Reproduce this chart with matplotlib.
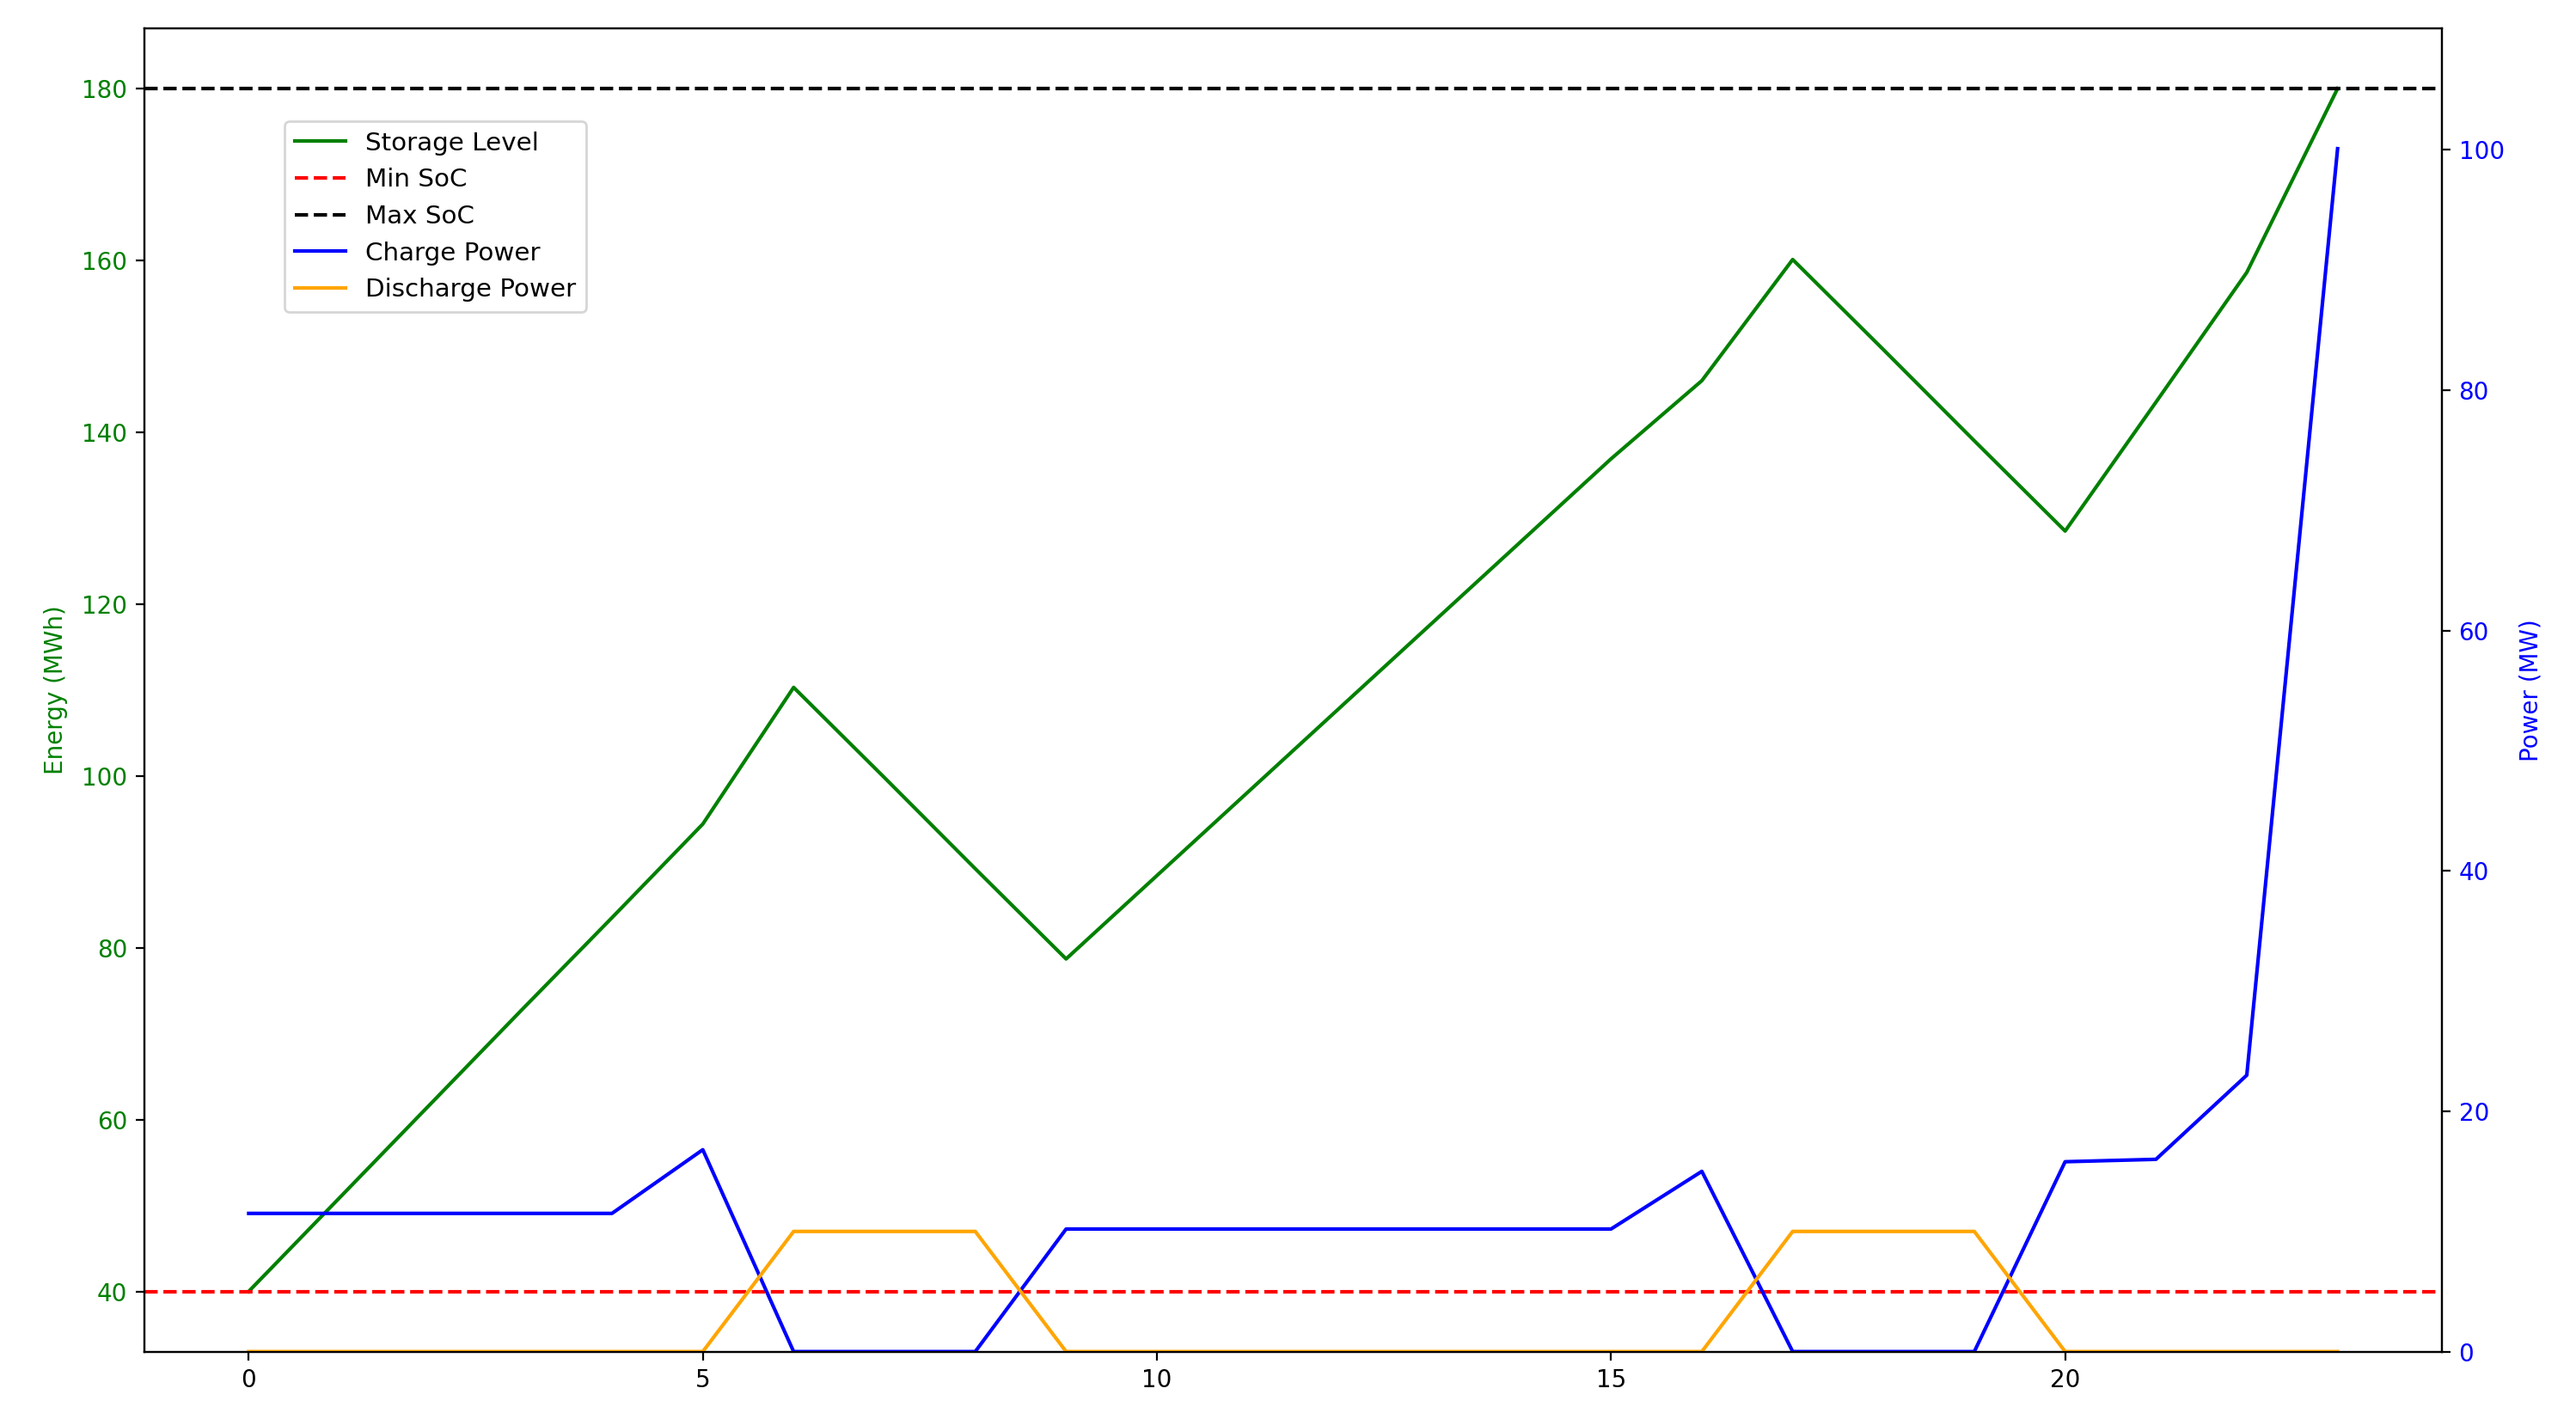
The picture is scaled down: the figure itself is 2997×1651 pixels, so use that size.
import matplotlib
matplotlib.use("Agg")
import matplotlib.pyplot as plt

hours = list(range(24))
storage_level = [40.0, 50.9, 61.8, 72.7, 83.5, 94.4, 110.3, 99.8, 89.2, 78.7,
                 88.4, 98.1, 107.8, 117.5, 127.2, 136.9, 146.0, 160.1, 149.6,
                 139.0, 128.5, 143.5, 158.6, 180.0]
charge_power = [11.5, 11.5, 11.5, 11.5, 11.5, 16.8, 0, 0, 0, 10.2, 10.2, 10.2,
                10.2, 10.2, 10.2, 10.2, 15.0, 0, 0, 0, 15.8, 16.0, 23.0, 100.1]
discharge_power = [0, 0, 0, 0, 0, 0, 10.0, 10.0, 10.0, 0, 0, 0, 0, 0, 0, 0, 0,
                   10.0, 10.0, 10.0, 0, 0, 0, 0]
min_soc = 40
max_soc = 180

plt.rcParams['font.size'] = 10
fig, ax1 = plt.subplots(figsize=(14.985, 8.255), dpi=200)
fig.subplots_adjust(left=0.056, right=0.948, top=0.980, bottom=0.0475)

l1, = ax1.plot(hours, storage_level, color='green', label='Storage Level', linewidth=1.5)
l2 = ax1.axhline(min_soc, color='red', linestyle='--', label='Min SoC', linewidth=1.5)
l3 = ax1.axhline(max_soc, color='black', linestyle='--', label='Max SoC', linewidth=1.5)
ax1.set_ylabel('Energy (MWh)', color='green', labelpad=6)
ax1.tick_params(axis='y', labelcolor='green')

ax2 = ax1.twinx()
l4, = ax2.plot(hours, charge_power, color='blue', label='Charge Power', linewidth=1.5)
l5, = ax2.plot(hours, discharge_power, color='orange', label='Discharge Power', linewidth=1.5)
ax2.set_ylim(0, max(charge_power) * 1.1)
ax2.set_ylabel('Power (MW)', color='blue', labelpad=6)
ax2.tick_params(axis='y', labelcolor='blue')

handles = [l1, l2, l3, l4, l5]
ax2.legend(handles, [h.get_label() for h in handles], loc='upper left',
           bbox_to_anchor=(0.061, 0.930), borderaxespad=0, fontsize=10.6)

fig.savefig('out.png', dpi=200)
